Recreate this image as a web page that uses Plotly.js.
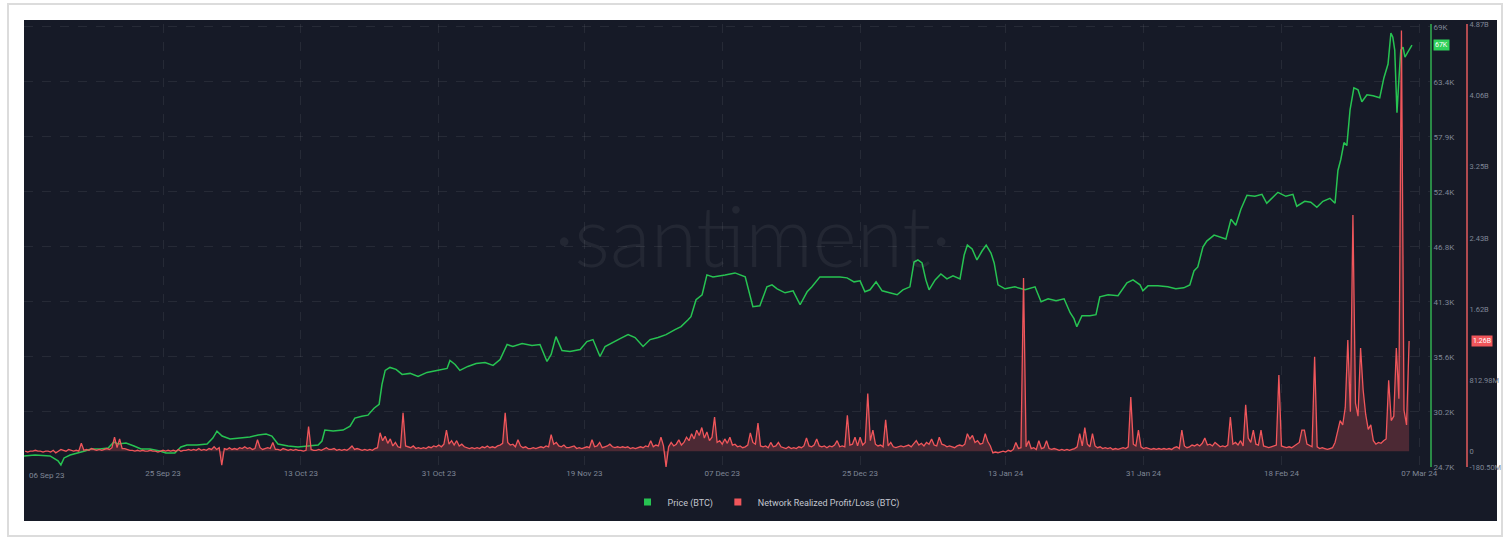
<!DOCTYPE html>
<html><head><meta charset="utf-8">
<script src="https://cdn.plot.ly/plotly-3.0.1.min.js"></script>
<style>
html,body{margin:0;padding:0;background:#fff;width:1511px;height:539px;overflow:hidden;}
#frame{position:absolute;left:7px;top:3px;width:1492px;height:530px;border:2px solid #dcdcdc;}
#panel{position:absolute;left:24px;top:20px;width:1473px;height:501px;background:#161a27;}
#chart{position:absolute;left:24px;top:20px;width:1487px;height:501px;}
</style></head><body>
<div id="frame"></div>
<div id="panel"></div>
<div id="chart"></div>
<script>
// ---------- data ----------
const xTickDates = ['2023-09-06 20:24','2023-09-25','2023-10-13','2023-10-31','2023-11-19','2023-12-07','2023-12-25','2024-01-13','2024-01-31','2024-02-18','2024-03-07'];
const xTickLabels = ['06 Sep 23','25 Sep 23','13 Oct 23','31 Oct 23','19 Nov 23','07 Dec 23','25 Dec 23','13 Jan 24','31 Jan 24','18 Feb 24','07 Mar 24'];
const priceTickVals = [24.7,30.23,35.76,41.29,46.82,52.35,57.88,63.41,68.94];
const priceTickLabels = ['24.7K','30.2K','35.6K','41.3K','46.8K','52.4K','57.9K','63.4K','69K'];
const nrplTickVals = [-0.1805,0,0.81298,1.62596,2.43894,3.25192,4.0649,4.87788];
const nrplTickLabels = ['-180.50M','0','812.98M','1.62B','2.43B','3.25B','4.06B','4.87B'];

const priceDates = [
"2023-09-06 20:00","2023-09-08 07:00","2023-09-10 06:00","2023-09-11 07:00","2023-09-11 16:00","2023-09-12 02:00","2023-09-12 21:00","2023-09-13 22:00","2023-09-14 19:00","2023-09-15 14:00",
"2023-09-16 18:00","2023-09-17 20:00","2023-09-18 14:00","2023-09-19 03:00","2023-09-20 04:00","2023-09-21 05:00","2023-09-22 03:00","2023-09-23 07:00","2023-09-24 14:00","2023-09-25 09:00",
"2023-09-26 13:00","2023-09-27 08:00","2023-09-28 03:00","2023-09-29 10:00","2023-09-30 18:00","2023-10-01 12:00","2023-10-02 01:00","2023-10-02 17:00","2023-10-03 18:00","2023-10-05 01:00",
"2023-10-06 08:00","2023-10-07 10:00","2023-10-08 11:00","2023-10-09 05:00","2023-10-10 00:00","2023-10-11 08:00","2023-10-12 15:00","2023-10-13 22:00","2023-10-15 06:00","2023-10-15 18:00",
"2023-10-16 03:00","2023-10-17 05:00","2023-10-18 12:00","2023-10-19 10:00","2023-10-20 01:00","2023-10-20 23:00","2023-10-21 18:00","2023-10-22 13:00","2023-10-23 05:00","2023-10-23 14:00",
"2023-10-24 00:00","2023-10-24 15:00","2023-10-25 10:00","2023-10-26 05:00","2023-10-27 06:00","2023-10-28 07:00","2023-10-29 11:00","2023-10-30 18:00","2023-11-01 02:00","2023-11-01 11:00",
"2023-11-02 03:00","2023-11-02 18:00","2023-11-03 19:00","2023-11-04 21:00","2023-11-06 01:00","2023-11-07 02:00","2023-11-08 00:00","2023-11-08 22:00","2023-11-09 16:00","2023-11-10 21:00",
"2023-11-12 04:00","2023-11-13 05:00","2023-11-14 03:00","2023-11-14 16:00","2023-11-15 07:00","2023-11-16 02:00","2023-11-17 03:00","2023-11-18 11:00","2023-11-19 08:00","2023-11-20 03:00",
"2023-11-21 01:00","2023-11-21 17:00","2023-11-22 15:00","2023-11-23 16:00","2023-11-24 17:00","2023-11-25 15:00","2023-11-26 16:00","2023-11-27 14:00","2023-11-28 15:00","2023-11-29 16:00",
"2023-11-30 20:00","2023-12-01 15:00","2023-12-02 13:00","2023-12-02 22:00","2023-12-03 14:00","2023-12-04 09:00","2023-12-05 00:00","2023-12-05 19:00","2023-12-07 09:00","2023-12-08 16:00",
"2023-12-10 00:00","2023-12-10 15:00","2023-12-11 00:00","2023-12-11 22:00","2023-12-12 20:00","2023-12-13 12:00","2023-12-14 04:00","2023-12-15 05:00","2023-12-16 06:00","2023-12-17 04:00",
"2023-12-18 02:00","2023-12-18 17:00","2023-12-19 18:00","2023-12-21 02:00","2023-12-22 09:00","2023-12-23 07:00","2023-12-24 05:00","2023-12-25 00:00","2023-12-25 15:00","2023-12-26 07:00",
"2023-12-27 02:00","2023-12-27 21:00","2023-12-28 22:00","2023-12-29 20:00","2023-12-30 14:00","2023-12-31 12:00","2024-01-01 01:00","2024-01-01 13:00","2024-01-02 02:00","2024-01-02 14:00",
"2024-01-03 00:00","2024-01-03 19:00","2024-01-04 13:00","2024-01-05 08:00","2024-01-06 03:00","2024-01-07 01:00","2024-01-07 14:00","2024-01-08 00:00","2024-01-08 15:00","2024-01-09 06:00",
"2024-01-09 22:00","2024-01-10 11:00","2024-01-11 02:00","2024-01-11 12:00","2024-01-12 00:00","2024-01-12 22:00","2024-01-14 05:00","2024-01-15 13:00","2024-01-16 20:00","2024-01-17 15:00",
"2024-01-18 13:00","2024-01-19 14:00","2024-01-20 15:00","2024-01-21 10:00","2024-01-21 22:00","2024-01-22 07:00","2024-01-22 23:00","2024-01-24 00:00","2024-01-24 19:00","2024-01-25 07:00",
"2024-01-26 09:00","2024-01-27 16:00","2024-01-28 20:00","2024-01-29 15:00","2024-01-30 13:00","2024-01-30 22:00","2024-01-31 14:00","2024-02-01 21:00","2024-02-03 04:00","2024-02-04 05:00",
"2024-02-05 06:00","2024-02-06 01:00","2024-02-06 14:00","2024-02-07 02:00","2024-02-07 18:00","2024-02-08 06:00","2024-02-09 05:00","2024-02-09 23:00","2024-02-10 18:00","2024-02-11 10:00",
"2024-02-12 01:00","2024-02-12 17:00","2024-02-13 12:00","2024-02-14 13:00","2024-02-15 11:00","2024-02-16 02:00","2024-02-16 18:00","2024-02-17 13:00","2024-02-18 14:00","2024-02-19 12:00",
"2024-02-20 00:00","2024-02-21 01:00","2024-02-21 20:00","2024-02-22 15:00","2024-02-23 10:00","2024-02-24 08:00","2024-02-25 00:00","2024-02-25 09:00","2024-02-25 18:00","2024-02-26 04:00",
"2024-02-26 13:00","2024-02-26 23:00","2024-02-27 11:00","2024-02-28 00:00","2024-02-28 12:00","2024-02-29 04:00","2024-02-29 23:00","2024-03-01 20:00","2024-03-02 09:00","2024-03-02 22:00",
"2024-03-03 07:00","2024-03-03 13:00","2024-03-03 19:00","2024-03-04 02:00","2024-03-04 08:00","2024-03-04 14:00","2024-03-04 21:00","2024-03-05 03:00","2024-03-05 12:00","2024-03-06 01:00"
];
const priceK = [
25.8,25.9,25.8,25.3,24.9,25.6,25.9,26.1,26.3,26.5,
26.5,26.6,27.2,27.0,27.1,26.8,26.5,26.5,26.3,26.1,
26.1,26.7,26.9,26.9,27.0,27.6,28.3,27.8,27.5,27.6,
27.7,27.9,28.0,27.8,27.0,26.8,26.7,26.8,26.9,27.3,
28.4,28.3,28.4,28.8,29.6,29.8,29.9,30.6,31.0,33.0,
34.4,34.7,34.5,34.0,34.1,33.8,34.2,34.4,34.6,35.4,
35.0,34.4,34.8,35.1,35.2,34.9,35.5,37.0,36.8,37.1,
36.9,37.0,35.3,36.0,37.8,36.4,36.3,36.5,37.3,37.5,
35.8,36.8,37.2,37.6,38.0,37.7,36.8,37.5,37.7,38.0,
38.5,38.8,39.5,39.8,41.5,42.0,44.0,43.8,44.0,44.2,
43.8,41.8,40.8,40.9,42.8,43.0,42.6,42.2,42.4,41.0,
42.3,42.8,43.8,43.8,43.8,43.7,43.3,43.4,42.3,42.5,
43.3,42.4,42.2,42.0,42.5,42.8,45.3,45.5,45.2,43.5,
42.5,43.5,44.1,43.6,43.9,43.6,46.0,47.0,46.6,45.5,
46.4,47.0,46.2,45.2,43.0,42.6,42.8,42.5,42.8,41.3,
41.6,41.4,41.6,40.2,39.6,38.8,39.9,39.9,40.0,41.8,
42.0,41.9,43.2,43.5,43.0,42.4,42.9,42.9,42.8,42.6,
42.7,43.0,44.4,44.8,46.8,47.4,48.0,47.8,47.6,49.6,
49.0,50.6,52.0,51.9,52.1,51.2,51.7,52.3,51.9,52.1,
50.9,51.4,51.3,50.8,51.4,51.7,51.2,54.5,55.6,57.3,
57.0,60.6,62.8,62.6,61.4,62.1,62.0,61.8,63.8,65.2,
68.3,67.9,66.6,60.3,63.6,66.6,66.9,65.9,66.4,67.1
];

// Network Realized Profit/Loss in billions, one value every 8 hours (00h, 08h, 16h) from 07 Sep 2023
const nrplStart = '2023-09-07T00:00:00Z';
const nrplStepHours = 8;
const nrplB = [
// Sep 7-30
0.00,-0.01,0.00, 0.00,0.01,0.00, 0.00,-0.01,0.00, 0.00,-0.01,0.01, -0.02,0.00,0.02, 0.01,0.00,0.02,
0.01,0.00,0.01, 0.00,0.09,0.01, 0.02,0.01,0.03, 0.02,0.01,0.02, 0.01,0.02,0.03, 0.02,0.04,0.16,
0.04,0.14,0.03, 0.03,0.02,0.01, 0.01,0.00,0.01, 0.00,0.01,0.00, 0.00,0.01,0.00, 0.00,-0.01,0.00,
0.01,0.00,0.01, 0.00,0.01,0.00, 0.02,0.00,0.01, 0.01,0.02,0.01, 0.02,0.01,0.03, 0.01,0.02,0.01,
// Oct 1-31
0.03,0.02,0.05, 0.02,0.04,-0.16, 0.03,0.02,0.04, 0.02,0.03,0.02, 0.04,0.03,0.05, 0.03,0.04,0.02,
0.03,0.13,0.04, 0.02,0.03,0.04, 0.03,0.10,0.02, 0.02,0.01,0.03, 0.02,0.01,0.02, 0.01,0.02,0.01,
0.01,0.00,0.01, 0.28,0.02,0.01, 0.01,0.02,0.01, 0.03,0.04,0.02, 0.02,0.03,0.01, 0.02,0.01,0.02,
0.01,0.03,0.06, 0.02,0.03,0.02, 0.01,0.02,0.01, 0.02,0.01,0.03, 0.04,0.21,0.12, 0.17,0.09,0.14,
0.06,0.10,0.05, 0.04,0.44,0.06, 0.05,0.04,0.06, 0.03,0.04,0.03, 0.04,0.03,0.05, 0.04,0.06,0.05,
0.07,0.05,0.08,
// Nov 1-30
0.24,0.08,0.12, 0.07,0.12,0.06, 0.08,0.05,0.04, 0.03,0.04,0.03, 0.04,0.03,0.05, 0.04,0.06,0.04,
0.05,0.04,0.06, 0.07,0.09,0.44, 0.10,0.07,0.08, 0.05,0.13,0.06, 0.04,0.05,0.03, 0.03,0.04,0.03,
0.04,0.05,0.04, 0.06,0.05,0.19, 0.08,0.10,0.06, 0.05,0.07,0.04, 0.04,0.05,0.06, 0.03,0.04,0.03,
0.04,0.05,0.04, 0.13,0.05,0.06, 0.10,0.04,0.05, 0.06,0.08,0.05, 0.04,0.05,0.04, 0.05,0.04,0.05,
0.03,0.04,0.03, 0.04,0.05,0.04, 0.06,0.05,0.12, 0.05,0.07,0.06, 0.16,0.06,-0.18, 0.05,0.10,0.06,
// Dec 1-31
0.08,0.13,0.07, 0.10,0.16,0.12, 0.20,0.14,0.24, 0.18,0.27,0.15, 0.22,0.12,0.16, 0.39,0.10,0.12,
0.08,0.14,0.09, 0.16,0.07,0.08, 0.05,0.06,0.04, 0.05,0.07,0.21, 0.10,0.08,0.32, 0.06,0.05,0.06,
0.04,0.10,0.05, 0.06,0.10,0.05, 0.04,0.03,0.05, 0.03,0.04,0.03, 0.05,0.04,0.06, 0.15,0.06,0.05,
0.07,0.14,0.06, 0.05,0.06,0.04, 0.06,0.05,0.07, 0.12,0.05,0.06, 0.05,0.41,0.07, 0.08,0.16,0.06,
0.16,0.07,0.10, 0.66,0.12,0.24, 0.08,0.06,0.07, 0.05,0.36,0.06, 0.10,0.05,0.04, 0.05,0.06,0.05,
0.06,0.07,0.05,
// Jan 1-31
0.08,0.12,0.07, 0.09,0.06,0.10, 0.08,0.14,0.07, 0.06,0.16,0.08, 0.07,0.05,0.06, 0.05,0.04,0.06,
0.07,0.06,0.08, 0.20,0.14,0.18, 0.10,0.12,0.08, 0.09,0.20,0.11, 0.06,-0.02,-0.01, -0.02,-0.01,0.00,
-0.01,0.01,0.00, 0.02,0.10,0.03, 0.04,1.98,0.05, 0.12,0.03,0.04, 0.02,0.12,0.03, 0.04,0.12,0.03,
0.02,0.03,0.02, 0.01,0.02,0.01, 0.02,0.01,0.02, 0.03,0.05,0.20, 0.06,0.27,0.08, 0.05,0.20,0.06,
0.04,0.05,0.03, 0.04,0.03,0.04, 0.02,0.03,0.02, 0.03,0.04,0.03, 0.05,0.62,0.08, 0.06,0.24,0.05,
0.03,0.04,0.03,
// Feb 1-29
0.02,0.03,0.02, 0.03,0.02,0.03, 0.02,0.03,0.02, 0.04,0.05,0.03, 0.24,0.06,0.04, 0.05,0.07,0.06,
0.08,0.06,0.09, 0.15,0.07,0.08, 0.06,0.10,0.07, 0.05,0.06,0.05, 0.07,0.39,0.08, 0.10,0.07,0.12,
0.06,0.53,0.15, 0.10,0.24,0.08, 0.07,0.24,0.06, 0.05,0.04,0.05, 0.06,0.07,0.87, 0.06,0.05,0.04,
0.05,0.04,0.06, 0.08,0.10,0.24, 0.24,0.08,0.06, 0.05,1.08,0.05, 0.03,0.04,0.03, 0.02,0.03,0.04,
0.10,0.22,0.35, 0.30,0.50,1.27, 0.45,2.70,0.55, 0.40,1.18,0.70, 0.42,0.25,0.30,
// Mar 1-5
0.12,0.08,0.10, 0.09,0.12,0.14, 0.81,0.35,0.40, 1.18,0.60,4.81, 0.47,0.30,1.26
];

// ---------- build ----------
const t0 = Date.parse(nrplStart);
const nrplDates = nrplB.map((v,i)=>new Date(t0 + i*nrplStepHours*3600e3).toISOString().slice(0,16).replace('T',' '));

const GREEN = '#27c352', RED = '#f0565b', BG = '#161a27', TICK = '#7f8696';

const traces = [
  {x:priceDates, y:priceK, type:'scatter', mode:'lines', name:'Price (BTC)', showlegend:false,
   line:{color:GREEN, width:1.5}, hoverinfo:'skip'},
  {x:nrplDates, y:nrplB, type:'scatter', mode:'lines', yaxis:'y2', name:'Network Realized Profit/Loss (BTC)', showlegend:false,
   line:{color:RED, width:1.3}, fill:'tozeroy', fillcolor:'rgba(240,86,91,0.25)', hoverinfo:'skip'},
  {x:[null], y:[null], type:'scatter', mode:'markers', name:'Price (BTC)', marker:{symbol:'square', size:7, color:GREEN}},
  {x:[null], y:[null], type:'scatter', mode:'markers', name:'Network Realized Profit/Loss (BTC)', marker:{symbol:'square', size:7, color:RED}}
];

const lastPrice = priceK[priceK.length-1];
const lastNrpl = nrplB[nrplB.length-1];

const layout = {
  width:1487, height:501,
  paper_bgcolor:'rgba(0,0,0,0)', plot_bgcolor:BG,
  margin:{l:0, r:0, t:4, b:54, pad:0},
  font:{family:'Roboto, "Open Sans", sans-serif', size:8, color:TICK},
  xaxis:{type:'date', domain:[0,0.94553], range:['2023-09-06 20:24','2024-03-08 09:30'],
    tickvals:xTickDates.slice(1), ticktext:xTickLabels.slice(1), ticks:'',
    showgrid:true, gridcolor:'rgba(255,255,255,0.07)', griddash:'dash', gridwidth:1,
    showline:false, zeroline:false, tickfont:{size:8, color:TICK}, fixedrange:true},
  yaxis:{side:'right', anchor:'x', range:[24.69,69.22], tickvals:priceTickVals, ticktext:priceTickLabels,
    ticks:'', showline:true, linecolor:'#2a8a46', linewidth:2,
    showgrid:true, gridcolor:'rgba(255,255,255,0.07)', griddash:'dash', zeroline:false,
    tickfont:{size:8, color:TICK}, fixedrange:true},
  yaxis2:{overlaying:'y', side:'right', anchor:'free', position:0.9704, range:[-0.181,4.885],
    tickvals:nrplTickVals, ticktext:nrplTickLabels, ticks:'', showline:true, linecolor:'#b04a4f', linewidth:2,
    showgrid:false, zeroline:false, tickfont:{size:7.5, color:TICK}, fixedrange:true},
  showlegend:true,
  legend:{orientation:'h', x:0.499, xanchor:'center', y:-0.079, yanchor:'middle',
    font:{size:9, color:'#c3c7cf'}, bgcolor:'rgba(0,0,0,0)', itemwidth:30},
  annotations:[
    {text:'·santiment·', xref:'paper', yref:'paper', x:0.4896, y:0.524, showarrow:false,
     font:{size:84, color:'rgba(255,255,255,0.06)', family:'Lato, sans-serif', weight:300}},
    {text:xTickLabels[0], xref:'x', yref:'paper', x:xTickDates[0], y:-0.02, xanchor:'left', yanchor:'middle',
     showarrow:false, xshift:3, font:{size:8, color:TICK}},
    {text:lastPrice.toFixed(0)+'K', xref:'paper', yref:'y', x:0.9476, y:lastPrice, xanchor:'left', yanchor:'middle',
     showarrow:false, bgcolor:'#2fd05a', borderpad:1, font:{size:7, color:'#ffffff'}},
    {text:lastNrpl.toFixed(2)+'B', xref:'paper', yref:'y2', x:0.9731, y:lastNrpl, xanchor:'left', yanchor:'middle',
     showarrow:false, bgcolor:RED, borderpad:1, font:{size:7, color:'#ffffff'}}
  ]
};

Plotly.newPlot('chart', traces, layout, {displayModeBar:false, staticPlot:true});
</script>
</body></html>
